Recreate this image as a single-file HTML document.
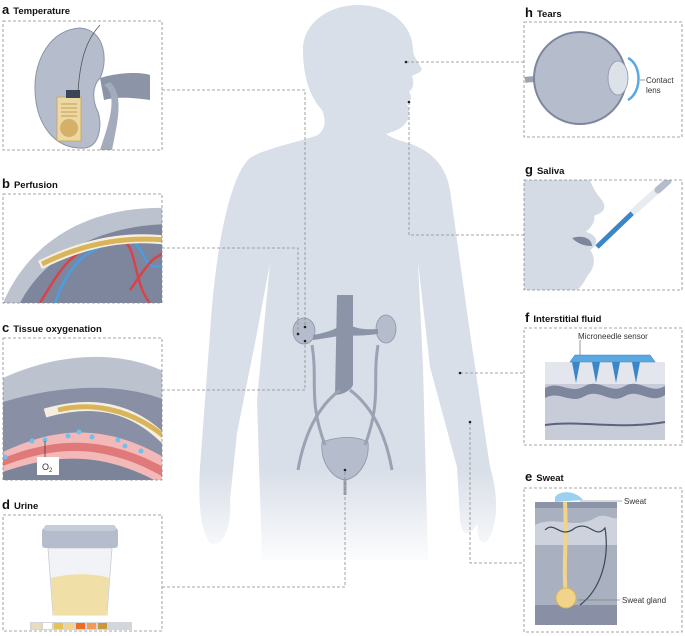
<!DOCTYPE html>
<html><head><meta charset="utf-8"><style>
html,body{margin:0;padding:0;background:#fff;}
svg{display:block;font-family:"Liberation Sans",sans-serif;}
.t{font-weight:bold;font-size:9.5px;fill:#111;}
.l{font-weight:bold;font-size:13px;fill:#111;}
.box{fill:none;stroke:#8a8a8a;stroke-width:0.8;stroke-dasharray:3 2;}
.c{fill:none;stroke:#8a8a8a;stroke-width:0.8;stroke-dasharray:3 2;}
.s{font-size:8px;fill:#333;}
</style></head><body>
<svg width="685" height="636" viewBox="0 0 685 636">
<defs>
<linearGradient id="fade" gradientUnits="userSpaceOnUse" x1="0" y1="470" x2="0" y2="568">
<stop offset="0" stop-color="#d9dfe8"/><stop offset="1" stop-color="#d9dfe8" stop-opacity="0"/></linearGradient>
<clipPath id="ca"><rect x="3" y="21" width="159" height="129"/></clipPath>
<clipPath id="cb"><rect x="3" y="194" width="159" height="109"/></clipPath>
<clipPath id="cc"><rect x="3" y="338" width="159" height="142"/></clipPath>
<clipPath id="cg"><rect x="524" y="180" width="158" height="110"/></clipPath>
</defs>

<!-- body silhouette -->
<path fill="url(#fade)" d="M358 5 C390 5 413 25 413 50 C413 56 418 62 422 69 C420 74 414 74 412 76 C414 82 414 88 409 92 C412 96 412 100 407 104 C410 110 410 118 405 124 C400 130 392 132 386 134 C392 138 398 140 405 142 C425 148 445 160 450 190 L470 333 L490 467 C497 490 500 520 488 540 C480 548 476 535 478 522 C472 535 462 540 460 520 L457 467 L430 367 L418 262 L423 367 L428 560 L262 560 L257 400 L270 263 L257 333 L237 433 L230 500 C232 530 222 548 210 543 C200 530 198 500 200 467 L210 333 C215 250 230 175 250 158 C265 148 300 142 318 135 C326 128 326 120 322 110 C308 95 303 72 303 50 C303 22 330 5 358 5 Z"/>
<!-- organs -->
<g fill="#b5bdcc" stroke="#8c95a8" stroke-width="0.8">
<ellipse cx="304" cy="331" rx="11" ry="13"/>
<ellipse cx="386" cy="329" rx="10" ry="14"/>
<path d="M322 442 C340 436 356 436 368 442 C370 462 358 478 345 480 C332 478 320 462 322 442 Z"/>
</g>
<path d="M337 295 L353 295 L353 385 C350 392 340 395 335 395 Z" fill="#8c95a8"/>
<path d="M313 335 C330 332 340 328 345 320 C350 328 362 330 378 329 L378 334 C362 336 350 336 345 335 C338 336 328 338 313 340 Z" fill="#8c95a8"/>
<g fill="none" stroke="#9aa2b4" stroke-width="3">
<path d="M340 390 C320 405 305 430 298 470"/><path d="M350 390 C370 405 385 430 392 470"/>
<path d="M312 345 C318 380 308 400 325 445"/><path d="M378 345 C372 380 382 400 365 445"/>
</g>
<path d="M345 480 L345 495" stroke="#9aa2b4" stroke-width="3"/>

<!-- connectors -->
<path class="c" d="M162 90 H305 V327"/>
<path class="c" d="M162 248 H298 V334"/>
<path class="c" d="M162 390 H305 V340"/>
<path class="c" d="M162 587 H345 V470"/>
<path class="c" d="M406 62 H524"/>
<path class="c" d="M409 102 V235 H524"/>
<path class="c" d="M460 373 H524"/>
<path class="c" d="M470 422 V563 H524"/>
<g fill="#222"><circle cx="305" cy="327" r="1.3"/><circle cx="298" cy="334" r="1.3"/><circle cx="305" cy="341" r="1.3"/><circle cx="345" cy="470" r="1.3"/><circle cx="406" cy="62" r="1.3"/><circle cx="409" cy="102" r="1.3"/><circle cx="460" cy="373" r="1.3"/><circle cx="470" cy="422" r="1.3"/></g>

<!-- titles -->
<text x="2" y="14"><tspan class="l">a</tspan><tspan class="t" dx="4">Temperature</tspan></text>
<text x="2" y="188"><tspan class="l">b</tspan><tspan class="t" dx="4">Perfusion</tspan></text>
<text x="2" y="332"><tspan class="l">c</tspan><tspan class="t" dx="4">Tissue oxygenation</tspan></text>
<text x="2" y="509"><tspan class="l">d</tspan><tspan class="t" dx="4">Urine</tspan></text>
<text x="525" y="17"><tspan class="l">h</tspan><tspan class="t" dx="4">Tears</tspan></text>
<text x="525" y="174"><tspan class="l">g</tspan><tspan class="t" dx="4">Saliva</tspan></text>
<text x="525" y="322"><tspan class="l">f</tspan><tspan class="t" dx="4">Interstitial fluid</tspan></text>
<text x="525" y="481"><tspan class="l">e</tspan><tspan class="t" dx="4">Sweat</tspan></text>

<!-- panel a -->
<g clip-path="url(#ca)">
<path d="M100 78 C120 72 140 72 150 75 L150 100 C135 98 118 96 104 100 Z" fill="#8c95a8"/>
<path d="M104 85 C118 95 110 120 100 150 L112 150 C118 120 124 95 110 82 Z" fill="#a3abbd"/>
<path d="M80 28 C50 30 34 60 35 90 C36 125 55 150 85 148 C100 146 102 125 98 112 C92 100 92 86 100 78 C108 62 106 30 80 28 Z" fill="#b5bdcc" stroke="#8c95a8" stroke-width="1"/>
<path d="M78 92 C80 60 86 40 100 25" stroke="#555" stroke-width="0.8" fill="none"/>
<rect x="57" y="97" width="24" height="44" fill="#ecd8a0" stroke="#c6a45a" stroke-width="0.8"/>
<rect x="66" y="90" width="14" height="8" fill="#3a4556"/>
<circle cx="69" cy="128" r="9" fill="#d4b068"/>
<path d="M61 104 h16 M61 108 h16 M61 112 h16 M61 116 h16" stroke="#b08a40" stroke-width="0.8"/>
</g>
<rect class="box" x="3" y="21" width="159" height="129"/>

<!-- panel b -->
<g clip-path="url(#cb)">
<path d="M3 303 C30 240 90 205 170 208 L170 303 Z" fill="#bcc3cf"/>
<path d="M20 303 C45 255 100 225 170 224 L170 303 Z" fill="#7d869c"/>
<path d="M40 303 C60 270 70 250 110 238 C140 232 130 280 150 303" fill="none" stroke="#d8434a" stroke-width="2.5"/>
<path d="M55 303 C70 260 90 245 130 240 C150 250 140 280 175 260" fill="none" stroke="#4a9ee0" stroke-width="2.5"/>
<path d="M130 290 C145 270 150 255 170 252" fill="none" stroke="#d8434a" stroke-width="2.5"/>
<path d="M40 265 C80 245 120 235 165 240" fill="none" stroke="#f4f0e0" stroke-width="9"/>
<path d="M42 264 C80 245 120 236 165 240" fill="none" stroke="#d9b45a" stroke-width="5"/>
</g>
<rect class="box" x="3" y="194" width="159" height="109"/>

<!-- panel c -->
<g clip-path="url(#cc)">
<path d="M3 378 C60 352 120 350 165 372 L165 480 L3 480 Z" fill="#bcc3cf"/>
<path d="M3 402 C60 385 120 382 165 400 L165 480 L3 480 Z" fill="#8990a5"/>
<path d="M3 452 C50 430 100 420 165 458 L165 480 L3 480 Z" fill="#f3b9b9"/>
<path d="M3 458 C50 440 100 432 165 468 L165 480 L3 480 Z" fill="#e07a7a"/>
<path d="M3 466 C50 448 100 440 165 478 L165 480 L3 480 Z" fill="#f3b9b9"/>
<path d="M3 472 C50 456 100 448 165 486 L165 480 L3 480 Z" fill="#7c849a"/>
<g fill="#6fc0ec"><circle cx="32" cy="441" r="2.5"/><circle cx="45" cy="440" r="2.5"/><circle cx="68" cy="436" r="2.5"/><circle cx="79" cy="432" r="2.5"/><circle cx="92" cy="437" r="2.5"/><circle cx="118" cy="440" r="2.5"/><circle cx="125" cy="446" r="2.5"/><circle cx="141" cy="451" r="2.5"/><circle cx="5" cy="457" r="2.5"/></g>
<path d="M45 413 C90 400 130 405 165 440" fill="none" stroke="#f4f0e0" stroke-width="9"/>
<path d="M58 410 C90 402 130 408 165 437" fill="none" stroke="#d9b45a" stroke-width="5"/>
<path d="M45 441 V458" stroke="#333" stroke-width="0.7"/>
<rect x="37" y="457" width="22" height="18" fill="#fff"/>
<text x="42" y="470" font-size="9" fill="#333">O<tspan font-size="6" dy="2">2</tspan></text>
</g>
<rect class="box" x="3" y="338" width="159" height="142"/>

<!-- panel d -->
<path d="M48 548 L112 548 L107 615 L53 615 Z" fill="#f1f3f6" stroke="#c7ccd6" stroke-width="0.8"/>
<path d="M51 578 C70 573 95 573 109 578 L107 615 L53 615 Z" fill="#f1dfa8"/>
<rect x="42" y="528" width="76" height="20" rx="3" fill="#b5bdcc"/>
<rect x="44" y="525" width="72" height="6" rx="3" fill="#c7cdd8"/>
<rect x="30" y="622" width="102" height="8" fill="#d3d6dc"/>
<rect x="32" y="623" width="9" height="6" fill="#e8dcc0"/><rect x="43" y="623" width="9" height="6" fill="#fff"/><rect x="54" y="623" width="9" height="6" fill="#e5c158"/><rect x="65" y="623" width="9" height="6" fill="#f1d389"/><rect x="76" y="623" width="9" height="6" fill="#ef6a22"/><rect x="87" y="623" width="9" height="6" fill="#f39a55"/><rect x="98" y="623" width="9" height="6" fill="#c69a3a"/>
<rect class="box" x="3" y="515" width="159" height="116"/>

<!-- panel h -->
<path d="M525 80 C535 78 540 80 545 84" stroke="#9aa2b4" stroke-width="6" fill="none"/>
<circle cx="580" cy="78" r="46" fill="#b5bdcc" stroke="#7d869c" stroke-width="2"/>
<ellipse cx="618" cy="78" rx="10" ry="17" fill="#dde1e8" stroke="#8c95a8" stroke-width="0.8"/>
<path d="M628 58 C642 65 642 92 628 100" stroke="#5aa8e0" stroke-width="2.5" fill="none"/>
<path d="M640 80 h5" stroke="#555" stroke-width="0.6"/>
<text class="s" x="646" y="83">Contact</text><text class="s" x="646" y="93">lens</text>
<rect class="box" x="524" y="22" width="158" height="115"/>

<!-- panel g -->
<g clip-path="url(#cg)">
<path d="M524 180 L590 180 C596 196 602 198 604 204 C606 212 598 214 594 216 C596 222 590 228 586 232 C600 236 598 245 590 250 C595 256 596 266 588 275 C584 282 580 290 575 290 L524 290 Z" fill="#d5dbe4"/>
<path d="M572 238 C585 234 592 240 592 246 C584 246 578 244 572 238 Z" fill="#7d869c"/>
<path d="M597 247 L646 200" stroke="#3a86c8" stroke-width="5"/>
<path d="M632 213 L660 188" stroke="#e8ecf2" stroke-width="7"/>
<path d="M658 190 L668 181" stroke="#b5bdcc" stroke-width="7" stroke-linecap="round"/>
</g>
<rect class="box" x="524" y="180" width="158" height="110"/>

<!-- panel f -->
<rect x="545" y="362" width="120" height="78" fill="#c7ccd8"/>
<rect x="545" y="362" width="120" height="22" fill="#e3e6ec"/>
<path d="M545 388 C560 380 570 395 585 386 C600 378 610 395 625 386 C640 378 650 395 665 386 L665 395 C650 405 640 388 625 396 C610 405 600 388 585 396 C570 405 560 390 545 398 Z" fill="#7d869c"/>
<path d="M545 425 C580 420 620 430 665 422" stroke="#5a647a" stroke-width="2" fill="none"/>
<path d="M575 355 H650 L655 362 H570 Z" fill="#5aa8e0" stroke="#3a86c8" stroke-width="0.6"/>
<g fill="#3a86c8"><path d="M572 362 L580 362 L576 383Z"/><path d="M592 362 L600 362 L596 383Z"/><path d="M612 362 L620 362 L616 383Z"/><path d="M632 362 L640 362 L636 383Z"/></g>
<path d="M580 340 V355" stroke="#555" stroke-width="0.6"/>
<text class="s" x="578" y="339">Microneedle sensor</text>
<rect class="box" x="524" y="328" width="158" height="117"/>

<!-- panel e -->
<rect x="535" y="502" width="82" height="123" fill="#a9b0c0"/>
<rect x="535" y="502" width="82" height="6" fill="#8c95a8"/>
<path d="M535 525 C555 515 575 530 595 518 C605 512 612 520 617 518 L617 545 L535 545 Z" fill="#cdd2dc"/>
<rect x="535" y="605" width="82" height="20" fill="#8990a5"/>
<path d="M555 497 C560 490 575 490 583 500 L555 502 Z" fill="#9cd0f0"/>
<path d="M565 502 C567 540 563 570 566 595" stroke="#f1d389" stroke-width="4" fill="none"/>
<circle cx="566" cy="598" r="10" fill="#f1d389" stroke="#d9b45a" stroke-width="1"/>
<path d="M545 530 C555 520 560 540 575 528 C590 520 595 540 605 528 C610 560 600 590 580 605" stroke="#3a4556" stroke-width="1.2" fill="none"/>
<path d="M580 501 H622 M578 600 H620" stroke="#666" stroke-width="0.6"/>
<text class="s" x="624" y="504">Sweat</text>
<text class="s" x="622" y="603">Sweat gland</text>
<rect class="box" x="524" y="488" width="158" height="144"/>
</svg>
</body></html>
